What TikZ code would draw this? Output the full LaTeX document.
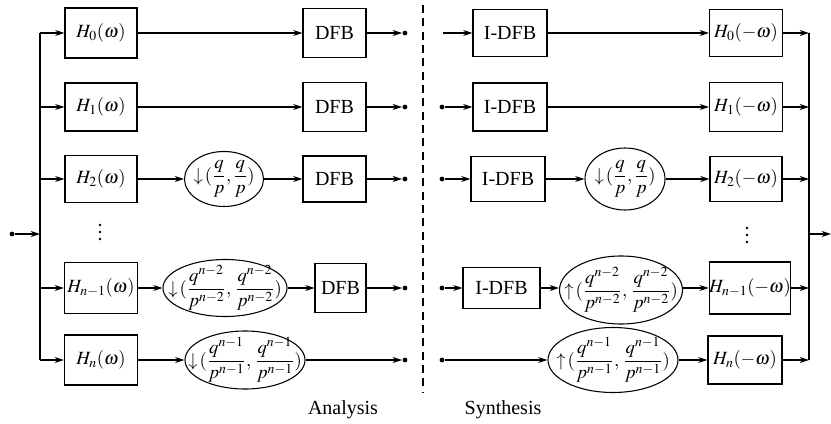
\documentclass[tikz,border=0pt]{standalone}
\usepackage{mathptmx}
\usepackage{fontspec}
\setmainfont{Liberation Serif}
\usetikzlibrary{arrows.meta,shapes.geometric}
\newcommand{\dfr}[2]{{\displaystyle\frac{#1}{#2}}}
\begin{document}
\begin{tikzpicture}[x=0.75pt,y=-0.75pt,
  font=\fontsize{15}{18}\selectfont,
  line width=0.8pt,
  blk/.style 2 args={draw,rectangle,inner sep=0pt,minimum width=#1*0.75pt,minimum height=#2*0.75pt},
  ell/.style 2 args={draw,ellipse,inner sep=0pt,minimum width=#1*0.75pt,minimum height=#2*0.75pt},
  mth/.style={font=\fontsize{14}{17}\selectfont},
  dot/.style={circle,fill,inner sep=0pt,minimum size=3.6pt},
  vdot/.style={circle,fill,inner sep=0pt,minimum size=2.2pt},
  arr/.style={-{Stealth[length=7pt,width=4.5pt]}},
  lbl/.style={inner sep=0pt}]
\useasboundingbox (0,0) rectangle (831,424);
% ---------- analysis ----------
\node[dot] (in) at (12,234) {};
\coordinate (uin) at (40,234);
\coordinate (u0) at (40,33);
\coordinate (u1) at (40,107);
\coordinate (u2) at (40,179);
\coordinate (un1) at (40,288);
\coordinate (un) at (40,360);
\draw[arr] (in) -- (uin);
\draw (u0) -- (un);

\node[blk={72}{50},mth] (h0) at (101,33) {$H_0(\omega)$};
\node[blk={72}{48},mth] (h1) at (101,107) {$H_1(\omega)$};
\node[blk={72}{47},mth] (h2) at (101,179) {$H_2(\omega)$};
\node[blk={73}{51},mth] (hn1) at (101,288) {$H_{n-1}(\omega)$};
\node[blk={73}{50},mth] (hn) at (101,360) {$H_n(\omega)$};

\node[ell={79}{55}] (e2) at (224,179) {};
\node[lbl,mth] (e2t) at (e2) {$\downarrow\!(\dfr{q}{p},\dfr{q}{p})$};
\node[ell={124}{57}] (en1) at (225,288) {};
\node[lbl,mth] (en1t) at (en1) {$\downarrow\!(\dfr{q^{n-2}}{p^{n-2}},\,\dfr{q^{n-2}}{p^{n-2}})$};
\node[ell={120}{58}] (en) at (245,360) {};
\node[lbl,mth] (ent) at (en) {$\downarrow\!(\dfr{q^{n-1}}{p^{n-1}},\,\dfr{q^{n-1}}{p^{n-1}})$};

\node[blk={63}{49}] (d0) at (334.5,33) {DFB};
\node[blk={63}{49}] (d1) at (334.5,107) {DFB};
\node[blk={63}{46}] (d2) at (334.5,179) {DFB};
\node[blk={51}{49}] (dn1) at (340.5,288) {DFB};

\node[dot] (o0) at (405,33) {};
\node[dot] (o1) at (405,107) {};
\node[dot] (o2) at (405,179) {};
\node[dot] (on1) at (405,288) {};
\node[dot] (on) at (405,360) {};

\draw[arr] (u0) -- (h0);
\draw[arr] (u1) -- (h1);
\draw[arr] (u2) -- (h2);
\draw[arr] (un1) -- (hn1);
\draw[arr] (un) -- (hn);

\draw[arr] (h0) -- (d0);
\draw[arr] (h1) -- (d1);
\draw[arr] (h2) -- (e2);
\draw[arr] (e2) -- (d2);
\draw[arr] (hn1) -- (en1);
\draw[arr] (en1) -- (dn1);
\draw[arr] (hn) -- (en);

\draw[arr] (d0) -- (o0);
\draw[arr] (d1) -- (o1);
\draw[arr] (d2) -- (o2);
\draw[arr] (dn1) -- (on1);
\draw[arr] (en) -- (on);

\node[vdot] (va1) at (100,225) {};
\node[vdot] (va2) at (100,232) {};
\node[vdot] (va3) at (100,239) {};
\node[lbl] (ana) at (343,410) {Analysis};

% ---------- divider ----------
\draw[dash pattern=on 6pt off 4pt] (423,5) -- (423,392);

% ---------- synthesis ----------
\coordinate (s0) at (443,33);
\node[dot] (s1) at (442,107) {};
\node[dot] (s2) at (442,179) {};
\node[dot] (sn1) at (442,288) {};
\node[dot] (sn) at (442,360) {};

\node[blk={74}{47}] (i0) at (510,33) {I-DFB};
\node[blk={74}{48}] (i1) at (510,107) {I-DFB};
\node[blk={74}{45}] (i2) at (508,179) {I-DFB};
\node[blk={77}{41}] (in1) at (501.5,288) {I-DFB};

\node[ell={80}{62}] (f2) at (625,179) {};
\node[lbl,mth] (f2t) at (f2) {$\downarrow\!(\dfr{q}{p},\dfr{q}{p})$};
\node[ell={123}{68}] (fn1) at (621,290) {};
\node[lbl,mth] (fn1t) at (fn1) {$\uparrow\!(\dfr{q^{n-2}}{p^{n-2}},\,\dfr{q^{n-2}}{p^{n-2}})$};
\node[ell={130}{65}] (fn) at (613,360) {};
\node[lbl,mth] (fnt) at (fn) {$\uparrow\!(\dfr{q^{n-1}}{p^{n-1}},\,\dfr{q^{n-1}}{p^{n-1}})$};

\node[blk={73}{47},mth] (g0) at (746,33) {$H_0(-\omega)$};
\node[blk={73}{49},mth] (g1) at (746,107) {$H_1(-\omega)$};
\node[blk={72}{45},mth] (g2) at (746,179) {$H_2(-\omega)$};
\node[blk={80}{52},mth] (gn1) at (750,288) {$H_{n-1}(-\omega)$};
\node[blk={74}{48},mth] (gn) at (745,360) {$H_n(-\omega)$};

\coordinate (v0) at (809,33);
\coordinate (v1) at (809,107);
\coordinate (v2) at (809,179);
\coordinate (vn1) at (809,288);
\coordinate (vn) at (809,360);
\coordinate (vout) at (809,234);
\coordinate (out) at (831,234);

\draw[arr] (s0) -- (i0);
\draw[arr] (s1) -- (i1);
\draw[arr] (s2) -- (i2);
\draw[arr] (sn1) -- (in1);
\draw[arr] (sn) -- (fn);

\draw[arr] (i0) -- (g0);
\draw[arr] (i1) -- (g1);
\draw[arr] (i2) -- (f2);
\draw[arr] (f2) -- (g2);
\draw[arr] (in1) -- (in1 -| fn1.west);
\draw[arr] (fn1.east |- gn1) -- (gn1);
\draw[arr] (fn) -- (gn);

\draw[arr] (g0) -- (v0);
\draw[arr] (g1) -- (v1);
\draw[arr] (g2) -- (v2);
\draw[arr] (gn1) -- (vn1);
\draw[arr] (gn) -- (vn);
\draw (v0) -- (vn);
\draw[arr] (vout) -- (out);

\node[vdot] (vb1) at (747,228) {};
\node[vdot] (vb2) at (747,235) {};
\node[vdot] (vb3) at (747,242) {};
\node[lbl] (syn) at (503,410) {Synthesis};
\end{tikzpicture}
\end{document}
